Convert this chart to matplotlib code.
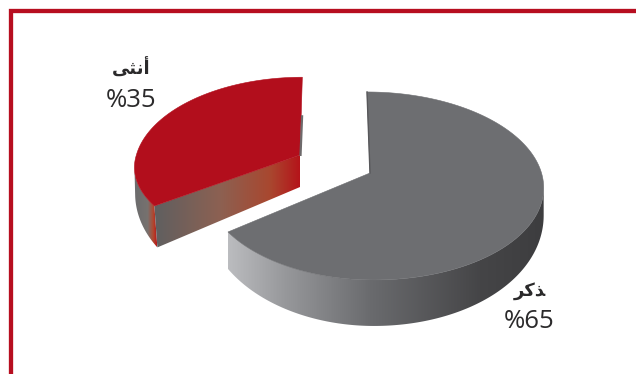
import numpy as np
import matplotlib
matplotlib.use("Agg")
import matplotlib.pyplot as plt
from matplotlib.colors import LinearSegmentedColormap
from matplotlib.patches import Polygon

# Shares of the two groups, in percent
labels_ar = ["\uFEAE\uFEDB\uFEAC", "\uFEF0\uFE9C\uFEE7\uFE83"]  # ذكر, أنثى in display order
values = [65, 35]
value_labels = ["%65", "%35"]

TOP_GREY = "#6d6e71"
TOP_RED = "#b20e1c"
FRAME_RED = "#b70e20"
TEXT = "#2b2a2b"

grey_wall = LinearSegmentedColormap.from_list(
    "grey_wall", [(0, "#bbbcbf"), (0.18, "#97989b"), (0.45, "#6a6b6e"), (0.8, "#454547"), (1, "#3d3d3f")])
red_face = LinearSegmentedColormap.from_list(
    "red_face", [(0, "#5f5f60"), (0.45, "#8c6152"), (0.8, "#a9472f"), (1, "#b5141a")])
red_rim = LinearSegmentedColormap.from_list(
    "red_rim", [(0, "#6b6b6d"), (0.6, "#77726f"), (0.85, "#b4452c"), (1, "#b5141a")])

fig = plt.figure(figsize=(6.36, 3.74), dpi=100)
ax = fig.add_axes([0, 0, 1, 1])
ax.set_xlim(0, 636)
ax.set_ylim(374, 0)
ax.axis("off")

# Perspective view of a flat disc: v > 0 points toward the viewer
PERSP = 0.138


def project(theta_deg, anchor, rx, ry, shear, left=1.0, front=1.0):
    t = np.radians(theta_deg)
    u, v = np.cos(t), -np.sin(t)
    w = 1 - PERSP * v
    y = ry * v / w * np.where(v > 0, front, 1.0)
    x = rx * u / w * np.where(u < 0, left, 1.0)
    return anchor[0] + x + shear * y, anchor[1] + y, v


def extrude(px, py, v, d0, d1, dx):
    vv = np.clip(v, 0, None)
    return px + dx * vv, py + d0 + d1 * vv


def gradient_strip(x0, y0, x1, y1, cmap, lo, hi, z):
    # Horizontal colour ramp clipped to the band between two curves
    outline = np.column_stack([np.r_[x0, x1[::-1]], np.r_[y0, y1[::-1]]])
    clip = Polygon(outline, closed=True, transform=ax.transData)
    ramp = np.linspace(0, 1, 512).reshape(1, -1)
    im = ax.imshow(ramp, cmap=cmap, extent=(lo, hi, outline[:, 1].max() + 1, outline[:, 1].min() - 1),
                   aspect="auto", interpolation="bilinear", zorder=z)
    im.set_clip_path(clip)
    ax.set_xlim(0, 636)
    ax.set_ylim(374, 0)


# Slice angles run clockwise from twelve o'clock
span_grey = 360 * values[0] / sum(values)
span_red = 360 * values[1] / sum(values)

# Large grey slice; its wall starts where the top outline turns back inward
g_anchor = (370, 173)
g_theta = np.linspace(90, 90 - span_grey, 500)
gx, gy, gv = project(g_theta, g_anchor, 171.5, 92.2, 0.037, left=0.955)
gbx, gby = extrude(gx, gy, gv, 24, 22, 0)
i = np.argmax(gx)
gradient_strip(gx[i:], gy[i:], gbx[i:], gby[i:], grey_wall, gx[-1], gx.max(), 2)
ax.add_patch(Polygon(np.column_stack([np.r_[g_anchor[0], gx], np.r_[g_anchor[1], gy]]),
                     closed=True, fc=TOP_GREY, ec=TOP_GREY, lw=0.4, zorder=3))
ax.plot([gx[0], g_anchor[0]], [gy[0], g_anchor[1]], color="#58585b", lw=1.0, zorder=4)

# Pulled-out red slice
r_anchor = (300, 155)
r_theta = np.linspace(90, 90 + span_red, 300)
rx, ry, rv = project(r_theta, r_anchor, 162, 88.5, -0.03, left=1.01, front=0.9)
rbx, rby = extrude(rx, ry, rv, 25, 28, 5)

# Outer rim, visible only on the left of the slice
j = np.argmin(rx)
gradient_strip(rx[j:], ry[j:], rbx[j:], rby[j:], red_rim, rx.min(), rbx[-1], 2)

# Cut face running from the outer corner back to the centre
fx = np.array([rx[-1], r_anchor[0]])
fy = np.array([ry[-1], r_anchor[1]])
fbx = np.array([rbx[-1], r_anchor[0]])
fby = np.array([rby[-1], r_anchor[1] + 32])
gradient_strip(fx, fy, fbx, fby, red_face, fx[0], fx[-1], 3)

ax.add_patch(Polygon(np.column_stack([np.r_[r_anchor[0], rx], np.r_[r_anchor[1], ry]]),
                     closed=True, fc=TOP_RED, ec=TOP_RED, lw=0.4, zorder=4))
# Sliver of the second cut face along the straight right edge
ax.plot([rx[0] - 0.2, r_anchor[0] + 0.5], [ry[0] + 38, r_anchor[1] + 1], color="#6e6a6b",
        lw=1.6, zorder=5, solid_capstyle="butt")

# Frame along the top and left
ax.plot([11, 11, 636], [374, 11, 11], color=FRAME_RED, lw=3.1, solid_joinstyle="miter", zorder=6)

# Labels
arabic = ["DejaVu Sans"]
latin = ["Open Sans", "DejaVu Sans"]
ax.text(530, 291, labels_ar[0], family=arabic, fontsize=13, weight="bold", color=TEXT,
        ha="center", va="center", zorder=7)
ax.text(529, 322, value_labels[0], family=latin, fontsize=18.5, color=TEXT,
        ha="center", va="center", zorder=7)
ax.text(131, 69, labels_ar[1], family=arabic, fontsize=13, weight="bold", color=TEXT,
        ha="center", va="center", zorder=7)
ax.text(131, 100, value_labels[1], family=latin, fontsize=18.5, color=TEXT,
        ha="center", va="center", zorder=7)

fig.savefig("out.png", dpi=100, facecolor="white")
